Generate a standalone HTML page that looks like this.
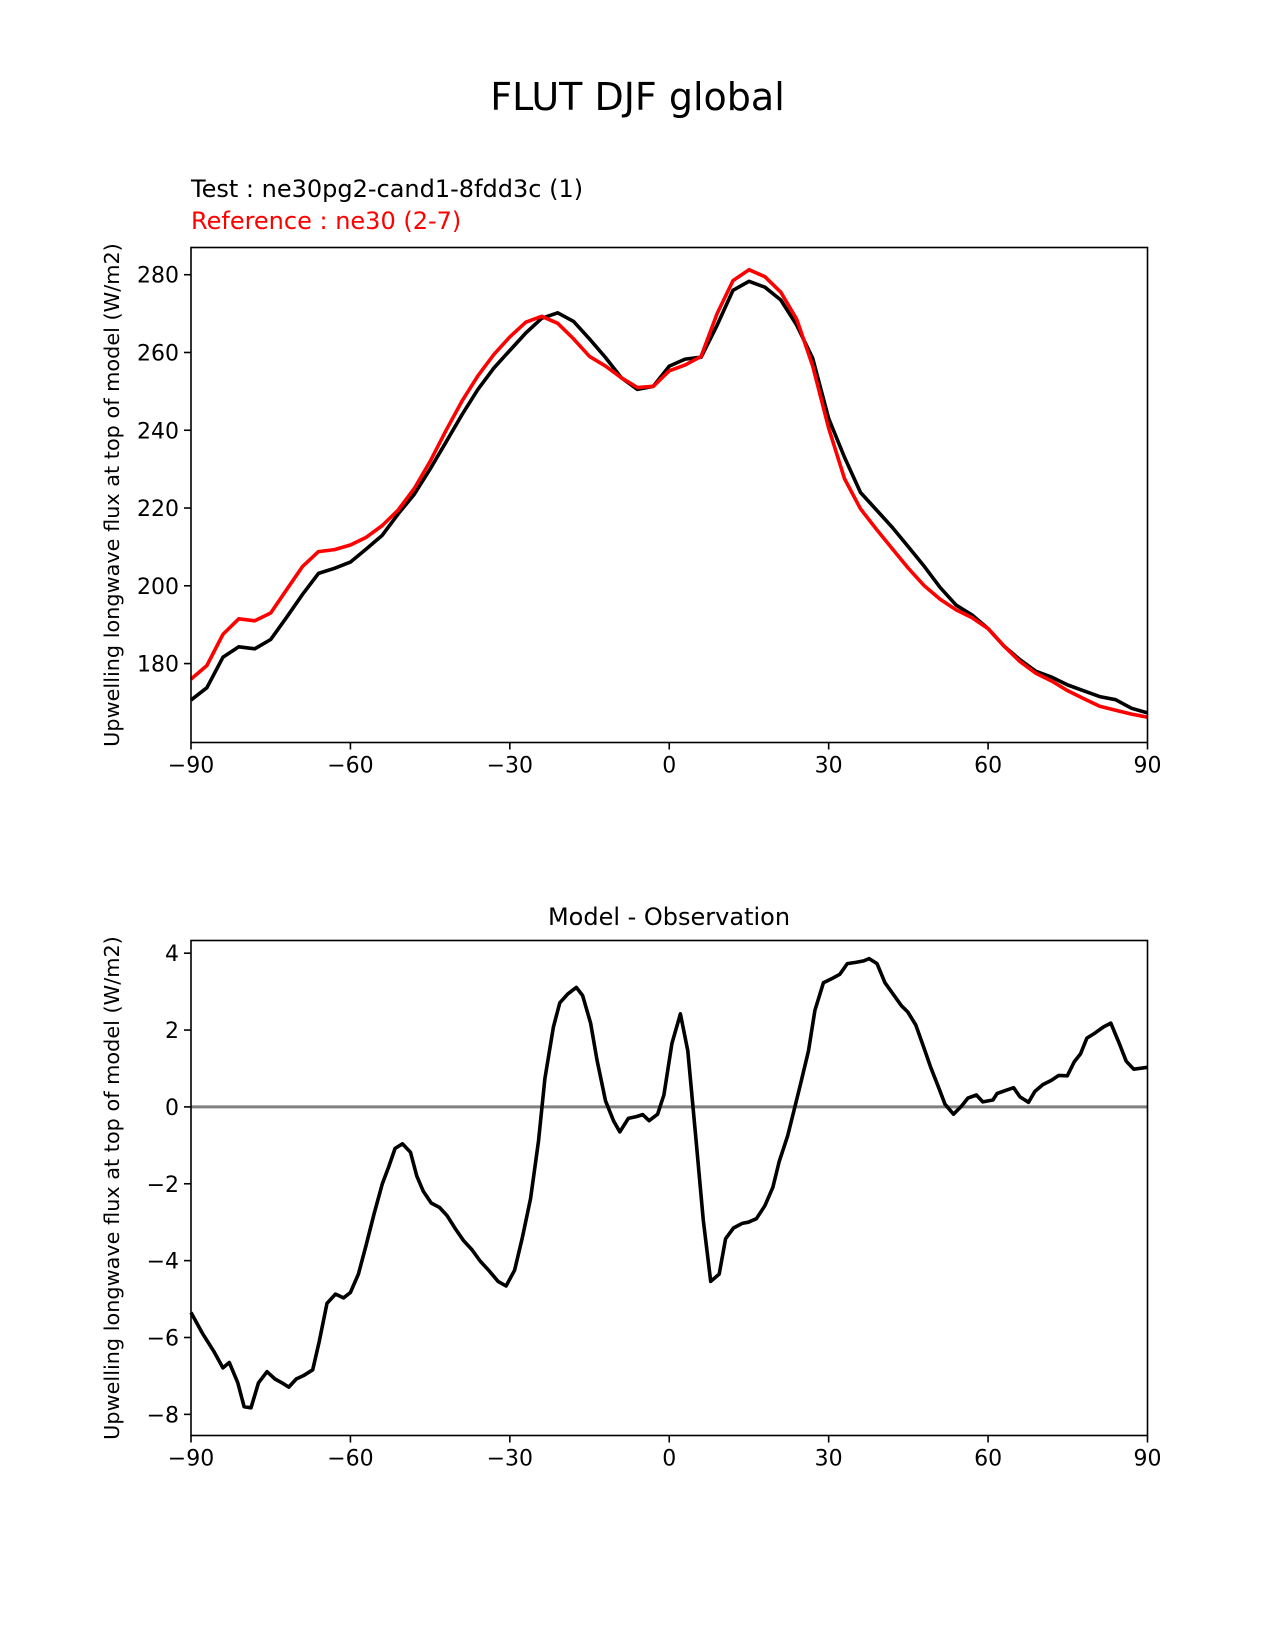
<!DOCTYPE html>
<html><head><meta charset="utf-8"><style>
body{margin:0;background:#fff}
svg{display:block;font-family:"DejaVu Sans","Liberation Sans",sans-serif}
</style></head><body>
<svg id="fig" width="1275" height="1650" viewBox="0 0 1275 1650">
<rect width="1275" height="1650" fill="#fff"/>
<text x="637.5" y="110" text-anchor="middle" font-size="38">FLUT DJF global</text>
<text x="191" y="197" font-size="24">Test : ne30pg2-cand1-8fdd3c (1)</text>
<text x="191" y="229" font-size="24" fill="#ff0000">Reference : ne30 (2-7)</text>
<text x="669" y="925" text-anchor="middle" font-size="24">Model - Observation</text>
<g id="top"></g>
<g id="bot"></g>
</svg>
<script>
const topLats=[-90,-87,-84,-81,-78,-75,-72,-69,-66,-63,-60,-57,-54,-51,-48,-45,-42,-39,-36,-33,-30,-27,-24,-21,-18,-15,-12,-9,-6,-3,0,3,6,9,12,15,18,21,24,27,30,33,36,39,42,45,48,51,54,57,60,63,66,69,72,75,78,81,84,87,90];
const testVals=[170.6,173.8,181.6,184.3,183.8,186.2,191.9,197.8,203.2,204.5,206.1,209.5,213,218.5,223.5,230,237,244,250.5,256,260.5,265,268.8,270.2,268,263.5,258.7,253.5,250.5,251.3,256.5,258.3,258.8,267,276,278.3,276.8,273.5,267,258.5,243,233,224,219.5,215,210,205,199.5,195,192.5,189,184.5,181,178,176.5,174.5,173,171.5,170.7,168.5,167.3];
const refVals=[176,179.5,187.5,191.5,191,193,199,205,208.8,209.3,210.5,212.5,215.5,219.5,225,232,240,247.5,254,259.5,264,267.8,269.3,267.5,263.5,259,256.5,253.5,251,251.3,255.3,256.8,259,270,278.5,281.3,279.5,275.5,268.5,256.5,240.5,227.5,219.8,214.5,209.5,204.5,200,196.5,193.8,191.8,189,184.5,180.5,177.5,175.5,173,171,169,168,167,166.2];
const topYTicks=[180,200,220,240,260,280];
const xTicks=[-90,-60,-30,0,30,60,90];
const diffLats=[-90,-87.9,-85.7,-84,-82.8,-81.2,-80,-78.7,-77.3,-75.7,-74.2,-72.9,-71.6,-70.2,-68.7,-67.1,-65.9,-64.4,-62.8,-61.3,-60,-58.5,-57.1,-55.5,-54,-52.8,-51.6,-50.2,-48.7,-47.5,-46.3,-44.8,-43.2,-41.8,-40.2,-38.7,-37.1,-35.6,-34,-32.2,-30.7,-29.1,-27.7,-26.1,-24.6,-23.4,-21.8,-20.6,-19.1,-17.5,-16.3,-14.8,-13.6,-12,-10.5,-9.3,-7.7,-6.1,-5,-3.8,-2.2,-1,0.5,2.1,3.5,4.9,6.4,7.8,9.4,10.6,12.1,13.7,14.9,16.4,18,19.5,20.7,22.3,23.5,24.7,26.2,27.4,29,30.5,32.1,33.5,35.1,36.6,37.6,39.1,40.6,42.1,43.7,44.9,46.4,48,49.2,50.7,51.9,53.5,55,56.2,57.8,59,60.9,61.7,63.3,64.8,66,67.6,68.8,70.3,71.9,73.3,74.9,76.2,77.4,78.6,80.1,81.7,83.1,84.7,86,87.4,90];
const diffVals=[-5.35,-5.88,-6.36,-6.79,-6.65,-7.18,-7.8,-7.83,-7.18,-6.89,-7.08,-7.18,-7.29,-7.08,-6.98,-6.84,-6.12,-5.11,-4.87,-4.97,-4.83,-4.35,-3.63,-2.76,-2,-1.56,-1.08,-0.96,-1.18,-1.8,-2.19,-2.5,-2.62,-2.83,-3.18,-3.48,-3.72,-4.01,-4.25,-4.54,-4.66,-4.25,-3.43,-2.38,-0.89,0.74,2.08,2.71,2.94,3.11,2.9,2.18,1.22,0.16,-0.36,-0.65,-0.3,-0.25,-0.2,-0.36,-0.19,0.31,1.65,2.42,1.46,-0.65,-2.95,-4.54,-4.35,-3.43,-3.15,-3.03,-3,-2.91,-2.57,-2.09,-1.42,-0.75,-0.08,0.59,1.46,2.51,3.23,3.33,3.45,3.73,3.76,3.8,3.86,3.73,3.23,2.94,2.63,2.47,2.13,1.51,1.03,0.5,0.07,-0.19,0.02,0.23,0.31,0.13,0.18,0.35,0.43,0.5,0.26,0.12,0.4,0.58,0.69,0.82,0.81,1.17,1.38,1.79,1.92,2.08,2.18,1.65,1.19,0.98,1.03];
const diffYTicks=[-8,-6,-4,-2,0,2,4];

const NS='http://www.w3.org/2000/svg';
function mk(parent,tag,attrs){const e=document.createElementNS(NS,tag);for(const k in attrs)e.setAttribute(k,attrs[k]);parent.appendChild(e);return e;}

function panel(g,box,ylim,yTicks,series,zero){
  const [L,T,R,B]=box;
  const sx=v=>L+(v+90)/180*(R-L);
  const sy=v=>B-(v-ylim[0])/(ylim[1]-ylim[0])*(B-T);
  if(zero){
    const z=mk(g,'line',{x1:L,x2:R,y1:sy(0),y2:sy(0),stroke:'#808080','stroke-width':3});
    
    
  }
  series.forEach(s=>{
    const d=s.lats.map((la,i)=>(i?'L':'M')+sx(la).toFixed(1)+' '+sy(s.vals[i]).toFixed(1)).join(' ');
    const p=mk(g,'path',{d:d,fill:'none',stroke:s.color,'stroke-width':3.6,'stroke-linejoin':'round'});
    
    
  });
  const fr=mk(g,'rect',{x:L,y:T,width:R-L,height:B-T,fill:'none',stroke:'#000','stroke-width':1.6});
  
  
  xTicks.forEach(t=>{
    mk(g,'line',{x1:sx(t),x2:sx(t),y1:B,y2:B+7,stroke:'#000','stroke-width':1.6});
    const tx=mk(g,'text',{x:sx(t),y:B+30,'text-anchor':'middle','font-size':22});
    tx.textContent=String(t).replace('-','\u2212');
    
    
  });
  yTicks.forEach(t=>{
    mk(g,'line',{x1:L-7,x2:L,y1:sy(t),y2:sy(t),stroke:'#000','stroke-width':1.6});
    const tx=mk(g,'text',{x:L-12,y:sy(t)+8,'text-anchor':'end','font-size':22});
    tx.textContent=String(t).replace('-','\u2212');
    
    
  });
  const cy=(T+B)/2;
  const yl=mk(g,'text',{x:119,y:cy,'text-anchor':'middle','font-size':20.8,transform:'rotate(-90 119 '+cy+')'});
  yl.textContent='Upwelling longwave flux at top of model (W/m2)';
  
  
}
panel(document.getElementById('top'),[191,247.5,1147.5,742.5],[159.7,287],topYTicks,
  [{lats:topLats,vals:testVals,color:'#000',name:'test-line'},{lats:topLats,vals:refVals,color:'#ff0000',name:'reference-line'}],false);
panel(document.getElementById('bot'),[191,940.5,1147.5,1435.5],[-8.55,4.33],diffYTicks,
  [{lats:diffLats,vals:diffVals,color:'#000',name:'diff-line'}],true);
</script>
</body></html>
